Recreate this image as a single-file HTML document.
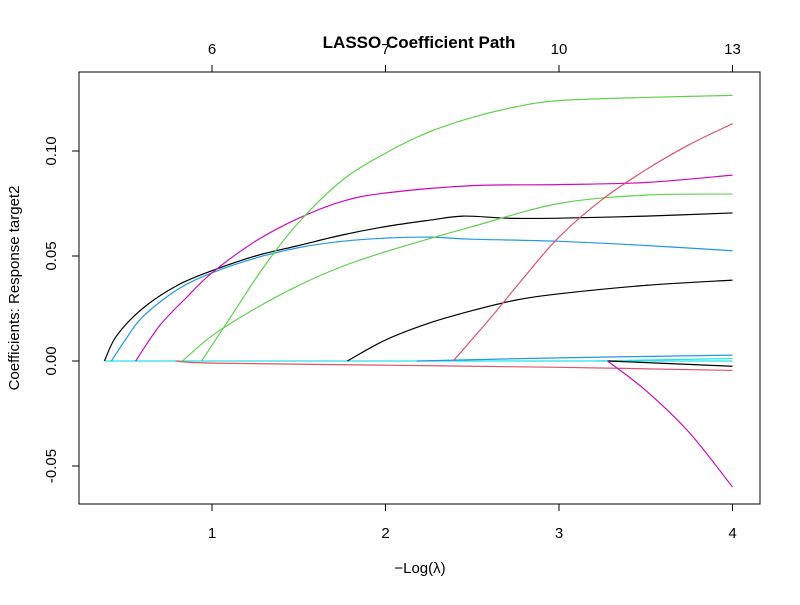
<!DOCTYPE html>
<html><head><meta charset="utf-8"><style>
body{margin:0;background:#fff}
svg text{font-family:"Liberation Sans",Arial,sans-serif}
</style></head><body>
<svg id="chart" width="800" height="600" xmlns="http://www.w3.org/2000/svg">
<rect width="800" height="600" fill="#fff"/>
<text x="419" y="48" text-anchor="middle" font-size="17" font-weight="bold">LASSO Coefficient Path</text>
<text x="420" y="573" text-anchor="middle" font-size="15">−Log(λ)</text>
<text transform="translate(19,288) rotate(-90)" text-anchor="middle" font-size="15">Coefficients: Response target2</text>
<rect x="79" y="72" width="681" height="432" fill="none" stroke="#000"/>
<g id="axes"></g>
<g id="series"></g>
</svg>
<script>
const xTicks=[1,2,3,4];
const yTicks=[-0.05,0,0.05,0.10];
const yTickLabels=["-0.05","0.00","0.05","0.10"];
const topTickLabels=["6","7","10","13"];
const s1=[[0.38,0],[0.45,0.012],[0.6,0.025],[0.8,0.036],[1,0.043],[1.25,0.05],[1.5,0.055],[1.75,0.06],[2,0.064],[2.25,0.067],[2.45,0.069],[2.7,0.068],[3,0.068],[3.5,0.069],[4,0.0705]];
const s2=[[0.42,0],[0.5,0.01],[0.6,0.021],[0.8,0.034],[1,0.042],[1.25,0.049],[1.5,0.054],[1.75,0.057],[2,0.0585],[2.25,0.059],[2.5,0.058],[3,0.057],[3.5,0.055],[4,0.0525]];
const s3=[[0.56,0],[0.7,0.017],[0.85,0.03],[1,0.042],[1.25,0.057],[1.5,0.068],[1.75,0.076],[2,0.08],[2.5,0.0835],[3,0.084],[3.5,0.085],[4,0.0885]];
const s4=[[0.94,0],[1.1,0.02],[1.3,0.045],[1.5,0.066],[1.75,0.086],[2,0.099],[2.25,0.109],[2.5,0.116],[2.75,0.121],[3,0.124],[3.5,0.1255],[4,0.1265]];
const s5=[[0.83,0],[1,0.012],[1.25,0.025],[1.5,0.036],[1.75,0.045],[2,0.052],[2.5,0.064],[3,0.075],[3.5,0.079],[4,0.0795]];
const s6=[[1.78,0],[2,0.01],[2.25,0.018],[2.5,0.024],[2.75,0.029],[3,0.032],[3.5,0.036],[4,0.0385]];
const s7=[[2.39,0],[2.6,0.02],[2.8,0.04],[3,0.059],[3.25,0.077],[3.5,0.091],[3.75,0.103],[4,0.113]];
const s8=[[3.28,0],[3.5,-0.014],[3.75,-0.034],[4,-0.06]];
const s9=[[0.79,0],[1,-0.001],[2,-0.002],[3,-0.003],[4,-0.0045]];
const s10=[[2.18,0],[3,0.0015],[4,0.0028]];
const s11=[[3.21,0],[4,0.0012]];
const s12=[[3.28,0],[4,-0.0025]];
const s13=[[0.38,0],[4,0]];
const allSeries=[s13,s9,s10,s11,s12,s1,s2,s3,s4,s5,s6,s7,s8];
const allColors=["#28E2E5","#DF536B","#2297E6","#28E2E5","#000000","#000000","#2297E6","#CD0BBC","#61D04F","#61D04F","#000000","#DF536B","#CD0BBC"];
const NS="http://www.w3.org/2000/svg";
const xs=v=>212+(v-1)*173.5;
const ys=v=>361-v*2100;
const ax=document.getElementById('axes');
function mk(t,a,p){const e=document.createElementNS(NS,t);for(const k in a)e.setAttribute(k,a[k]);p.appendChild(e);return e;}
mk('line',{x1:xs(1),x2:xs(4),y1:504,y2:504,stroke:'#000'},ax);
mk('line',{x1:xs(1),x2:xs(4),y1:72,y2:72,stroke:'#000'},ax);
mk('line',{x1:79,x2:79,y1:ys(-0.05),y2:ys(0.10),stroke:'#000'},ax);
xTicks.forEach((t,i)=>{
 const b=mk('line',{x1:xs(t),x2:xs(t),y1:504,y2:511,stroke:'#000'},ax);
 
 
 const l=mk('text',{x:xs(t),y:538,'text-anchor':'middle','font-size':15},ax);l.textContent=String(t);
 
 
 mk('line',{x1:xs(t),x2:xs(t),y1:72,y2:65,stroke:'#000'},ax);
 const tl=mk('text',{x:xs(t),y:54,'text-anchor':'middle','font-size':15},ax);tl.textContent=topTickLabels[i];
 
 
});
yTicks.forEach((t,i)=>{
 mk('line',{x1:72,x2:79,y1:ys(t),y2:ys(t),stroke:'#000'},ax);
 const l=mk('text',{transform:`translate(56,${ys(t)}) rotate(-90)`,'text-anchor':'middle','font-size':15},ax);l.textContent=yTickLabels[i];
 
 
});
function smooth(s){
 const P=s.map(d=>[xs(d[0]),ys(d[1])]);
 let d='M'+P[0][0]+','+P[0][1];
 for(let i=0;i<P.length-1;i++){
  const p0=P[i-1]||P[i],p1=P[i],p2=P[i+1],p3=P[i+2]||p2;
  const c1=[p1[0]+(p2[0]-p0[0])/6,p1[1]+(p2[1]-p0[1])/6];
  const c2=[p2[0]-(p3[0]-p1[0])/6,p2[1]-(p3[1]-p1[1])/6];
  d+=` C${c1[0]},${c1[1]} ${c2[0]},${c2[1]} ${p2[0]},${p2[1]}`;
 }
 return d;
}
const sg=document.getElementById('series');
allSeries.forEach((s,i)=>{
 const p=mk('path',{d:smooth(s),fill:'none',stroke:allColors[i],'stroke-width':1.2},sg);
 
 
});
</script>
</body></html>
